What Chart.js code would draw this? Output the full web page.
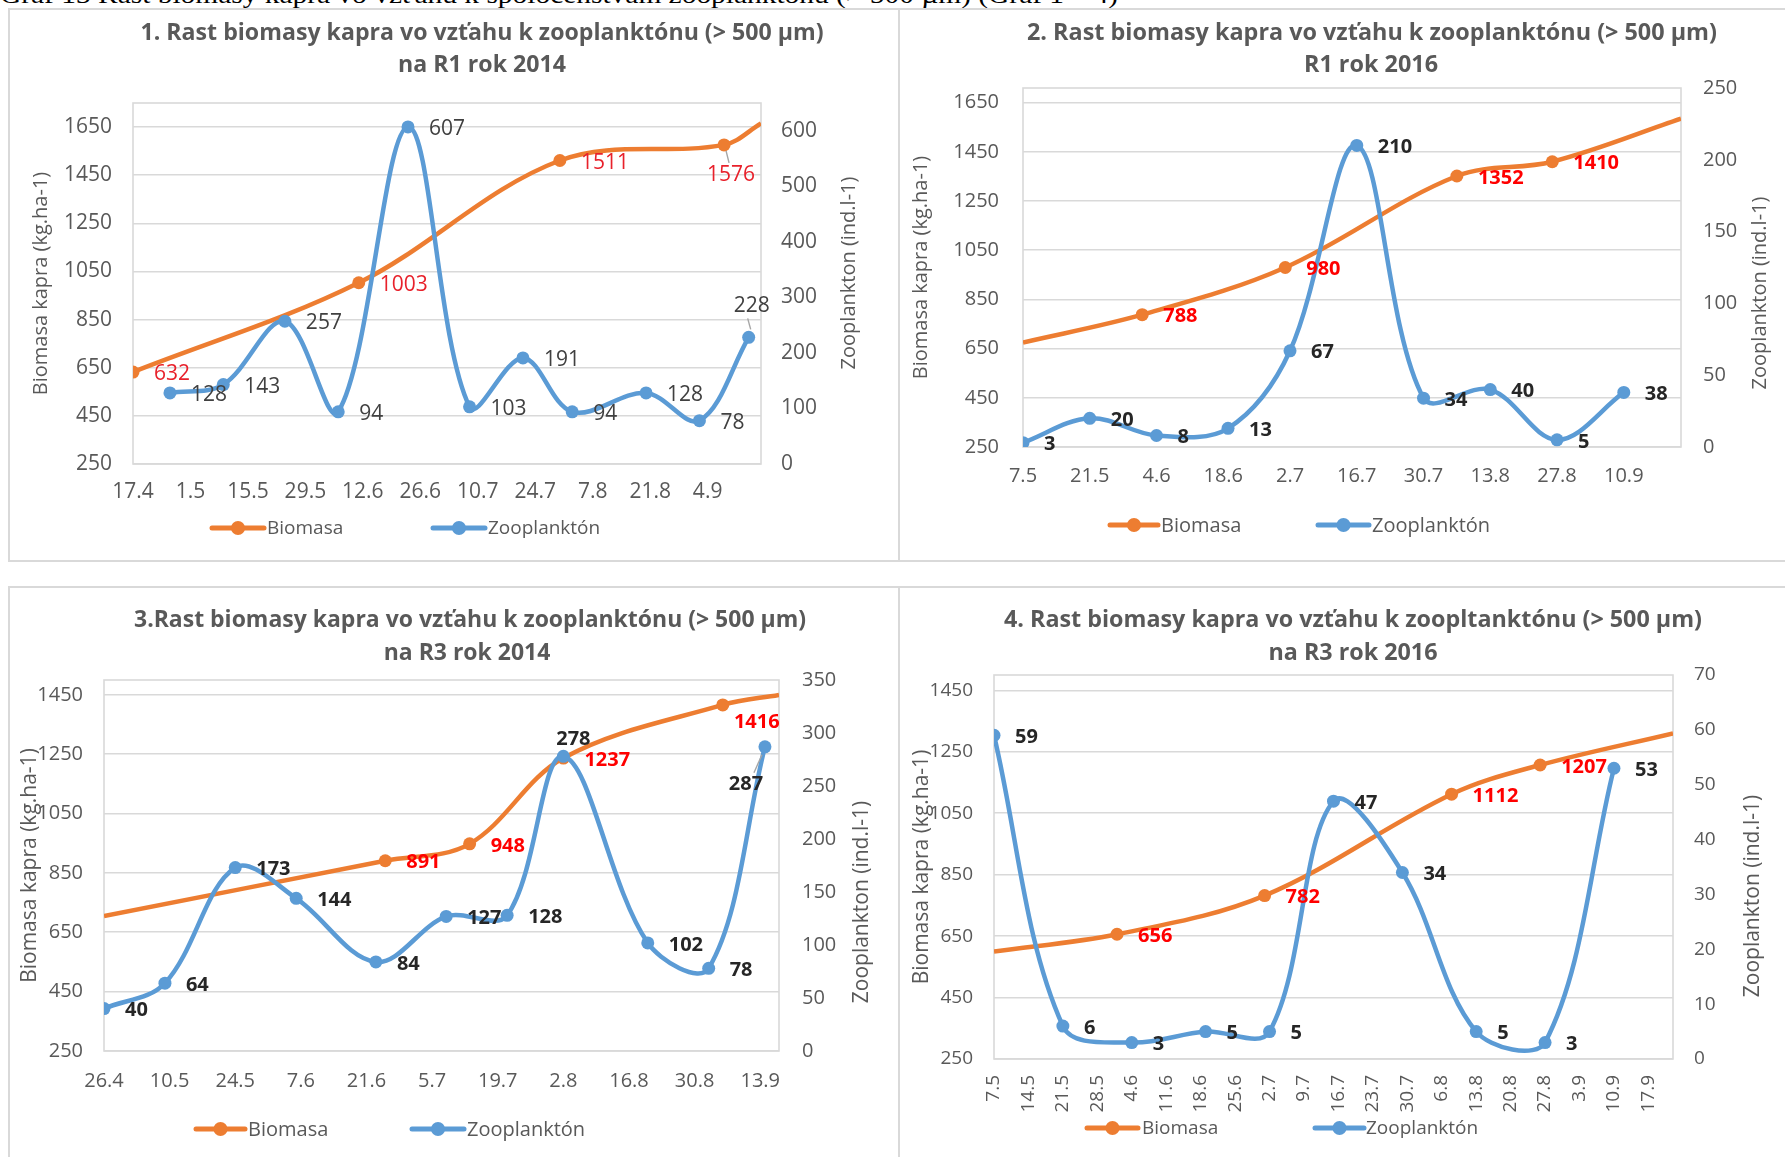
<!DOCTYPE html>
<html>
<head>
<meta charset="utf-8">
<script src="https://cdn.jsdelivr.net/npm/chart.js@4.4.1/dist/chart.umd.min.js"></script>
<style>
  html, body { margin: 0; padding: 0; background: #fff; }
  body { width: 1785px; height: 1157px; position: relative; overflow: hidden; font-family: 'Open Sans', sans-serif; }
  .caption { position: absolute; left: 0; top: -18px; font: 26px/26px 'Liberation Serif', serif; color: #000; white-space: nowrap; transform-origin: 0 0; }
  .panel { position: absolute; border: 2px solid #d9d9d9; box-sizing: border-box; }
  .ttl { position: absolute; white-space: nowrap; font: 700 23px/1 'Open Sans', sans-serif; color: #595959; transform: translate(-50%, -50%); }
  canvas { position: absolute; }
</style>
</head>
<body>
<div class="caption" id="caption">Graf 13 Rast biomasy kapra vo vzťahu k spoločenstvám zooplanktónu (&gt; 500 µm) (Graf 1 – 4)</div>

<div class="panel" style="left:8px;top:8px;width:892px;height:554px"></div>
<div class="panel" style="left:898px;top:8px;width:900px;height:554px"></div>
<div class="panel" style="left:8px;top:586px;width:892px;height:600px"></div>
<div class="panel" style="left:898px;top:586px;width:900px;height:600px"></div>

<canvas id="c1" width="888" height="550" style="left:10px;top:10px"></canvas>
<canvas id="c2" width="885" height="550" style="left:900px;top:10px"></canvas>
<canvas id="c3" width="888" height="569" style="left:10px;top:588px"></canvas>
<canvas id="c4" width="885" height="569" style="left:900px;top:588px"></canvas>

<div class="ttl" data-w="683" style="left:482px;top:31px">1. Rast biomasy kapra vo vzťahu k zooplanktónu (&gt; 500 µm)</div>
<div class="ttl" data-k="prev" style="left:482px;top:63px">na R1 rok 2014</div>
<div class="ttl" data-w="690" style="left:1372px;top:31px">2. Rast biomasy kapra vo vzťahu k zooplanktónu (&gt; 500 µm)</div>
<div class="ttl" data-k="prev" style="left:1371px;top:63px">R1 rok 2016</div>
<div class="ttl" data-w="672" style="left:470px;top:618px">3.Rast biomasy kapra vo vzťahu k zooplanktónu (&gt; 500 µm)</div>
<div class="ttl" data-k="prev" style="left:467px;top:651px">na R3 rok 2014</div>
<div class="ttl" data-w="698" style="left:1353px;top:618px">4. Rast biomasy kapra vo vzťahu k zoopltanktónu (&gt; 500 µm)</div>
<div class="ttl" data-k="prev" style="left:1353px;top:651px">na R3 rok 2016</div>

<script>
// ---------- Graf 1: R1, 2014 ----------
const p1Ticks = ['17.4', '1.5', '15.5', '29.5', '12.6', '26.6', '10.7', '24.7', '7.8', '21.8', '4.9'];
const p1End = '17.9';
const p1ZooDates = ['26.4', '9.5', '24.5', '6.6', '23.6', '8.7', '21.7', '2.8', '20.8', '2.9', '14.9'];
const p1ZooValues = [128, 143, 257, 94, 607, 103, 191, 94, 128, 78, 228];
const p1BioDates = ['17.4', '11.6', '30.7', '8.9', '17.9'];
const p1BioValues = [632, 1003, 1511, 1576, 1665];
const p1BioMarked = [true, true, true, true, false];
const p1LeftTicks = [250, 450, 650, 850, 1050, 1250, 1450, 1650];
const p1LeftRange = [250, 1750];
const p1RightTicks = [0, 100, 200, 300, 400, 500, 600];
const p1RightRange = [0, 650];

// ---------- Graf 2: R1, 2016 ----------
const p2Ticks = ['7.5', '21.5', '4.6', '18.6', '2.7', '16.7', '30.7', '13.8', '27.8', '10.9'];
const p2End = '22.9';
const p2ZooDates = ['7.5', '21.5', '4.6', '19.6', '2.7', '16.7', '30.7', '13.8', '27.8', '10.9'];
const p2ZooValues = [3, 20, 8, 13, 67, 210, 34, 40, 5, 38];
const p2BioDates = ['7.5', '1.6', '1.7', '6.8', '26.8', '22.9'];
const p2BioValues = [675, 788, 980, 1352, 1410, 1585];
const p2BioMarked = [false, true, true, true, true, false];
const p2LeftTicks = [250, 450, 650, 850, 1050, 1250, 1450, 1650];
const p2LeftRange = [250, 1710];
const p2RightTicks = [0, 50, 100, 150, 200, 250];
const p2RightRange = [0, 250];

// ---------- Graf 3: R3, 2014 ----------
const p3Ticks = ['26.4', '10.5', '24.5', '7.6', '21.6', '5.7', '19.7', '2.8', '16.8', '30.8', '13.9'];
const p3End = '17.9';
const p3ZooDates = ['26.4', '9.5', '24.5', '6.6', '23.6', '8.7', '21.7', '2.8', '20.8', '2.9', '14.9'];
const p3ZooValues = [40, 64, 173, 144, 84, 127, 128, 278, 102, 78, 287];
const p3BioDates = ['26.4', '25.6', '13.7', '2.8', '5.9', '17.9'];
const p3BioValues = [705, 891, 948, 1237, 1416, 1450];
const p3BioMarked = [false, true, true, true, true, false];
const p3LeftTicks = [250, 450, 650, 850, 1050, 1250, 1450];
const p3LeftRange = [250, 1500];
const p3RightTicks = [0, 50, 100, 150, 200, 250, 300, 350];
const p3RightRange = [0, 350];

// ---------- Graf 4: R3, 2016 ----------
const p4Ticks = ['7.5', '14.5', '21.5', '28.5', '4.6', '11.6', '18.6', '25.6', '2.7', '9.7',
                 '16.7', '23.7', '30.7', '6.8', '13.8', '20.8', '27.8', '3.9', '10.9', '17.9'];
const p4End = '22.9';
const p4ZooDates = ['7.5', '21.5', '4.6', '19.6', '2.7', '15.7', '29.7', '13.8', '27.8', '10.9'];
const p4ZooValues = [59, 6, 3, 5, 5, 47, 34, 5, 3, 53];
const p4BioDates = ['7.5', '1.6', '1.7', '8.8', '26.8', '22.9'];
const p4BioValues = [600, 656, 782, 1112, 1207, 1310];
const p4BioMarked = [false, true, true, true, true, false];
const p4LeftTicks = [250, 450, 650, 850, 1050, 1250, 1450];
const p4LeftRange = [250, 1500];
const p4RightTicks = [0, 10, 20, 30, 40, 50, 60, 70];
const p4RightRange = [0, 70];

// "d.m" -> day of year, used as the x position of each sample
const MONTH_START = [0, 31, 59, 90, 120, 151, 181, 212, 243, 273, 304, 334];
function dayOf(s) {
  const [d, m] = s.split('.').map(Number);
  return MONTH_START[m - 1] + d;
}

const ORANGE = '#ED7D31';
const BLUE = '#5B9BD5';
const GREY = '#595959';
const FONT = "'Open Sans', sans-serif";

Chart.defaults.font.family = FONT;
Chart.defaults.color = GREY;

// plot frame, right-hand axis title and legend
const decor = {
  id: 'decor',
  beforeDatasetsDraw(chart) {
    const a = chart.chartArea, ctx = chart.ctx;
    ctx.save();
    ctx.strokeStyle = '#d9d9d9';
    ctx.lineWidth = 1.6;
    ctx.strokeRect(a.left, a.top, a.right - a.left, a.bottom - a.top);
    ctx.restore();
  },
  afterDraw(chart, args, o) {
    const ctx = chart.ctx;
    ctx.save();
    // right axis title, reading upwards
    ctx.translate(o.rightTitle.x, o.rightTitle.y);
    ctx.rotate(-Math.PI / 2);
    ctx.font = o.axisFont + 'px ' + FONT;
    ctx.fillStyle = GREY;
    ctx.textAlign = 'center';
    ctx.textBaseline = 'middle';
    ctx.fillText(o.rightTitle.text, 0, 0);
    ctx.restore();

    // legend: line with a round marker, then the series name
    chart.data.datasets.forEach((ds, i) => {
      const [x0, x1, tx] = o.legend.items[i];
      const y = o.legend.y;
      ctx.save();
      ctx.strokeStyle = ds.borderColor;
      ctx.fillStyle = ds.borderColor;
      ctx.lineWidth = 5;
      ctx.lineCap = 'round';
      ctx.beginPath();
      ctx.moveTo(x0, y);
      ctx.lineTo(x1, y);
      ctx.stroke();
      ctx.beginPath();
      ctx.arc((x0 + x1) / 2, y, 7, 0, Math.PI * 2);
      ctx.fill();
      ctx.font = o.legend.font + 'px ' + FONT;
      ctx.fillStyle = GREY;
      ctx.textAlign = 'left';
      ctx.textBaseline = 'middle';
      ctx.fillText(ds.label, tx, y + 1);
      ctx.restore();
    });
  }
};

// value labels next to the markers
const pointLabels = {
  id: 'pointLabels',
  afterDatasetsDraw(chart, args, o) {
    const ctx = chart.ctx;
    chart.data.datasets.forEach((ds, di) => {
      const meta = chart.getDatasetMeta(di);
      const spots = o.spots[ds.key] || {};
      meta.data.forEach((pt, i) => {
        if (ds.marked && !ds.marked[i]) return;
        const text = String(ds.data[i].y);
        ctx.save();
        ctx.font = o.font;
        ctx.fillStyle = ds.key === 'bio' ? o.red : o.dark;
        ctx.textBaseline = 'middle';
        const s = spots[i];
        if (s) {
          const cx = pt.x + s.dx, cy = pt.y + s.dy;
          ctx.textAlign = 'center';
          ctx.fillText(text, cx, cy);
          if (s.lead) {
            ctx.strokeStyle = '#a6a6a6';
            ctx.lineWidth = 1.4;
            ctx.beginPath();
            ctx.moveTo(s.lead[0] + cx, s.lead[1] + cy);
            ctx.lineTo(s.lead[2] + pt.x, s.lead[3] + pt.y);
            ctx.stroke();
          }
        } else {
          ctx.textAlign = 'left';
          ctx.fillText(text, pt.x + o.gap, pt.y + o.dy);
        }
        ctx.restore();
      });
    });
  }
};

function makeChart(id, d, L) {
  const canvas = document.getElementById(id);
  const W = canvas.width, H = canvas.height;
  const zoo = d.zooDates.map((t, i) => ({ x: dayOf(t), y: d.zooValues[i] }));
  const bio = d.bioDates.map((t, i) => ({ x: dayOf(t), y: d.bioValues[i] }));
  const tickFont = { size: L.tickFont, family: FONT };
  const plain = v => String(v);

  return new Chart(canvas, {
    type: 'line',
    data: {
      datasets: [
        {
          key: 'bio', label: 'Biomasa', data: bio, marked: d.bioMarked, yAxisID: 'y', order: 1,
          borderColor: ORANGE, backgroundColor: ORANGE, borderWidth: 4.5, tension: 0.35,
          pointRadius: c => (d.bioMarked[c.dataIndex] ? 6.5 : 0),
          pointBackgroundColor: ORANGE, pointBorderWidth: 0, fill: false
        },
        {
          key: 'zoo', label: 'Zooplanktón', data: zoo, yAxisID: 'y1', order: 0,
          borderColor: BLUE, backgroundColor: BLUE, borderWidth: 4.5, tension: 0.35,
          pointRadius: 6.5, pointBackgroundColor: BLUE, pointBorderWidth: 0, fill: false
        }
      ]
    },
    options: {
      responsive: false,
      animation: false,
      devicePixelRatio: 1,
      events: [],
      layout: { padding: { top: L.plot.top, left: 0, right: 0, bottom: 0 } },
      scales: {
        x: {
          type: 'linear',
          min: dayOf(d.ticks[0]),
          max: dayOf(d.end),
          afterBuildTicks: s => { s.ticks = d.ticks.map(t => ({ value: dayOf(t) })); },
          afterFit: s => { s.height = H - L.plot.bottom; },
          grid: { display: false, drawTicks: false },
          border: { display: false },
          ticks: {
            autoSkip: false,
            maxRotation: L.rot, minRotation: L.rot,
            padding: L.padX,
            font: tickFont, color: GREY,
            callback: (v, i) => d.ticks[i]
          }
        },
        y: {
          position: 'left',
          min: d.leftRange[0], max: d.leftRange[1],
          afterBuildTicks: s => { s.ticks = d.leftTicks.map(v => ({ value: v })); },
          afterFit: s => { s.width = L.plot.left; },
          grid: { color: '#d9d9d9', lineWidth: 1.6, drawTicks: false },
          border: { display: false },
          ticks: { padding: L.padL, font: tickFont, color: GREY, callback: plain },
          title: {
            display: true, text: 'Biomasa kapra (kg.ha-1)', color: GREY,
            font: { size: L.axisFont, family: FONT },
            padding: { top: L.leftTitleX - L.axisFont * 0.6, bottom: 0 }
          }
        },
        y1: {
          position: 'right',
          min: d.rightRange[0], max: d.rightRange[1],
          afterBuildTicks: s => { s.ticks = d.rightTicks.map(v => ({ value: v })); },
          afterFit: s => { s.width = W - L.plot.right; },
          grid: { display: false, drawTicks: false },
          border: { display: false },
          ticks: { padding: L.padR, font: tickFont, color: GREY, callback: plain }
        }
      },
      plugins: {
        legend: { display: false },
        tooltip: { enabled: false },
        decor: {
          axisFont: L.axisFont,
          rightTitle: { text: 'Zooplankton (ind.l-1)', x: L.rightTitle[0], y: L.rightTitle[1] },
          legend: L.legend
        },
        pointLabels: {
          font: L.labelFont, red: L.red, dark: L.dark, gap: 21, dy: 2, spots: L.spots
        }
      }
    },
    plugins: [decor, pointLabels]
  });
}

makeChart('c1', {
  ticks: p1Ticks, end: p1End, zooDates: p1ZooDates, zooValues: p1ZooValues,
  bioDates: p1BioDates, bioValues: p1BioValues, bioMarked: p1BioMarked,
  leftTicks: p1LeftTicks, leftRange: p1LeftRange, rightTicks: p1RightTicks, rightRange: p1RightRange
}, {
  plot: { left: 123, right: 751, top: 93, bottom: 454 },
  tickFont: 21, padX: 15, padL: 21, padR: 20, rot: 0,
  axisFont: 20, leftTitleX: 31, rightTitle: [839, 263],
  legend: { y: 518, font: 19, items: [[202, 254, 257], [423, 475, 478]] },
  labelFont: '400 21px ' + FONT, red: '#e8212b', dark: '#404040',
  spots: {
    zoo: { 10: { dx: 3, dy: -31, lead: [-4, 12, 2, -8] } },
    bio: { 3: { dx: 7, dy: 30, lead: [-2, -12, 2, 6] } }
  }
});

makeChart('c2', {
  ticks: p2Ticks, end: p2End, zooDates: p2ZooDates, zooValues: p2ZooValues,
  bioDates: p2BioDates, bioValues: p2BioValues, bioMarked: p2BioMarked,
  leftTicks: p2LeftTicks, leftRange: p2LeftRange, rightTicks: p2RightTicks, rightRange: p2RightRange
}, {
  plot: { left: 123, right: 781, top: 78, bottom: 437 },
  tickFont: 20, padX: 17, padL: 24, padR: 22, rot: 0,
  axisFont: 20, leftTitleX: 21, rightTitle: [860, 283],
  legend: { y: 515, font: 20, items: [[210, 258, 261], [418, 469, 472]] },
  labelFont: '700 20px ' + FONT, red: '#ff0000', dark: '#262626',
  spots: {}
});

makeChart('c3', {
  ticks: p3Ticks, end: p3End, zooDates: p3ZooDates, zooValues: p3ZooValues,
  bioDates: p3BioDates, bioValues: p3BioValues, bioMarked: p3BioMarked,
  leftTicks: p3LeftTicks, leftRange: p3LeftRange, rightTicks: p3RightTicks, rightRange: p3RightRange
}, {
  plot: { left: 94, right: 769, top: 92, bottom: 463 },
  tickFont: 20, padX: 18, padL: 21, padR: 23, rot: 0,
  axisFont: 21, leftTitleX: 20, rightTitle: [852, 314],
  legend: { y: 541, font: 20, items: [[186, 235, 238], [402, 454, 457]] },
  labelFont: '700 20px ' + FONT, red: '#ff0000', dark: '#262626',
  spots: {
    zoo: { 7: { dx: 10, dy: -17 }, 10: { dx: -19, dy: 38, lead: [8, -12, -3, 8] } },
    bio: { 4: { dx: 34, dy: 17 } }
  }
});

makeChart('c4', {
  ticks: p4Ticks, end: p4End, zooDates: p4ZooDates, zooValues: p4ZooValues,
  bioDates: p4BioDates, bioValues: p4BioValues, bioMarked: p4BioMarked,
  leftTicks: p4LeftTicks, leftRange: p4LeftRange, rightTicks: p4RightTicks, rightRange: p4RightRange
}, {
  plot: { left: 94, right: 773, top: 87, bottom: 471 },
  tickFont: 19, padX: 16, padL: 21, padR: 21, rot: 90,
  axisFont: 21, leftTitleX: 22, rightTitle: [853, 308],
  legend: { y: 540, font: 19, items: [[187, 238, 242], [415, 464, 466]] },
  labelFont: '700 20px ' + FONT, red: '#ff0000', dark: '#262626',
  spots: {}
});

// squeeze the headings horizontally to their set widths
let lastK = 1;
document.querySelectorAll('.ttl').forEach(el => {
  if (el.dataset.w) {
    lastK = +el.dataset.w / el.getBoundingClientRect().width;
  }
  el.style.transform = 'translate(-50%, -50%) scaleX(' + lastK + ')';
});
const cap = document.getElementById('caption');
cap.style.transform = 'scaleX(' + (1118 / cap.getBoundingClientRect().width) + ')';
</script>
</body>
</html>
